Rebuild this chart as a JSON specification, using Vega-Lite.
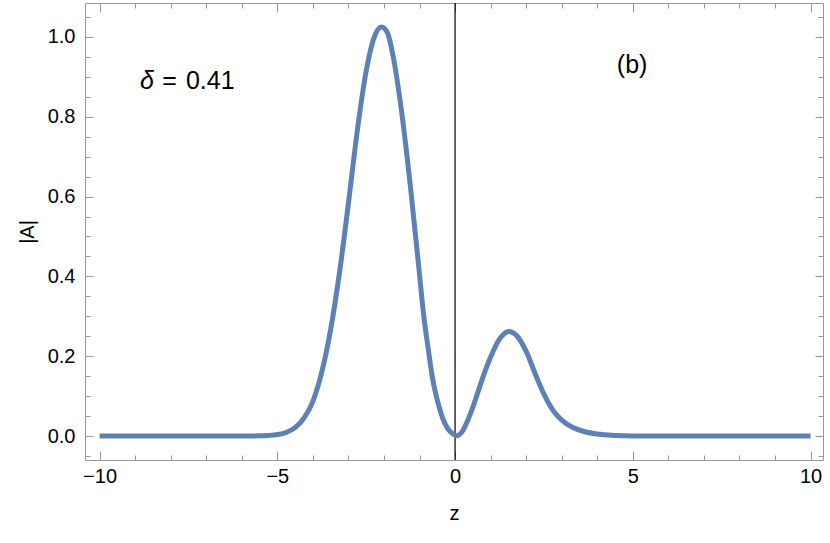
{
  "$schema": "https://vega.github.io/schema/vega-lite/v6.json",
  "width": 738,
  "height": 457,
  "autosize": "none",
  "padding": {"left": 85, "top": 3, "right": 7, "bottom": 83},
  "background": "white",
  "config": {
    "view": {"stroke": null},
    "font": "Liberation Sans",
    "axis": {
      "domainColor": "#999999",
      "domainWidth": 1,
      "tickColor": "#999999",
      "tickWidth": 1,
      "grid": false,
      "labelFont": "Liberation Sans",
      "labelFontSize": 20,
      "labelColor": "#000000",
      "titleFont": "Liberation Sans",
      "titleFontSize": 20,
      "titleFontWeight": "normal",
      "titleColor": "#000000",
      "labelFlush": false,
      "labelOverlap": false
    }
  },
  "datasets": {
    "curve": [
      {"z": -10, "A": 0}, {"z": -9, "A": 0}, {"z": -8, "A": 0}, {"z": -7, "A": 0},
      {"z": -6.5, "A": 0.00001}, {"z": -6, "A": 0.00005}, {"z": -5.5, "A": 0.0005},
      {"z": -5.25, "A": 0.0015}, {"z": -5, "A": 0.0037}, {"z": -4.75, "A": 0.009},
      {"z": -4.5, "A": 0.021}, {"z": -4.25, "A": 0.045}, {"z": -4, "A": 0.087},
      {"z": -3.75, "A": 0.16}, {"z": -3.5, "A": 0.267}, {"z": -3.25, "A": 0.41},
      {"z": -3.0, "A": 0.583}, {"z": -2.75, "A": 0.765}, {"z": -2.5, "A": 0.915},
      {"z": -2.25, "A": 1.005}, {"z": -2.07, "A": 1.025}, {"z": -1.9, "A": 1.01},
      {"z": -1.75, "A": 0.955}, {"z": -1.5, "A": 0.81}, {"z": -1.25, "A": 0.62},
      {"z": -1.0, "A": 0.405}, {"z": -0.9, "A": 0.316}, {"z": -0.75, "A": 0.215},
      {"z": -0.64, "A": 0.148}, {"z": -0.5, "A": 0.09}, {"z": -0.35, "A": 0.045},
      {"z": -0.2, "A": 0.018}, {"z": -0.05, "A": 0.005}, {"z": 0.06, "A": 0.001},
      {"z": 0.2, "A": 0.011}, {"z": 0.35, "A": 0.038}, {"z": 0.47, "A": 0.065},
      {"z": 0.65, "A": 0.112}, {"z": 0.79, "A": 0.149}, {"z": 1.0, "A": 0.198},
      {"z": 1.25, "A": 0.243}, {"z": 1.51, "A": 0.262}, {"z": 1.75, "A": 0.25},
      {"z": 2.0, "A": 0.212}, {"z": 2.29, "A": 0.148}, {"z": 2.5, "A": 0.105},
      {"z": 2.75, "A": 0.065}, {"z": 3.0, "A": 0.04}, {"z": 3.3, "A": 0.022},
      {"z": 3.6, "A": 0.012}, {"z": 4.0, "A": 0.005}, {"z": 4.5, "A": 0.0015},
      {"z": 5.0, "A": 0.0004}, {"z": 6, "A": 0.00003}, {"z": 7, "A": 0},
      {"z": 8, "A": 0}, {"z": 9, "A": 0}, {"z": 10, "A": 0}
    ],
    "zero": [{"z": 0}],
    "labels": [
      {"z": -8.86, "A": 0.87, "t": "δ", "kind": "sym"},
      {"z": -8.24, "A": 0.87, "t": "=", "kind": "val"},
      {"z": -7.57, "A": 0.87, "t": "0.41", "kind": "val"},
      {"z": 4.98, "A": 0.91, "t": "(b)", "kind": "tag"}
    ]
  },
  "resolve": {"axis": {"x": "independent", "y": "independent"}},
  "layer": [
    {
      "data": {"name": "zero"},
      "mark": {"type": "rule", "color": "#000000", "strokeWidth": 1.2},
      "encoding": {
        "x": {
          "field": "z", "type": "quantitative",
          "scale": {"domain": [-10.41, 10.35], "nice": false, "zero": false},
          "axis": {
            "orient": "bottom",
            "title": "z",
            "titlePadding": 13,
            "labelFontSize": 20,
            "values": [-10,-9,-8,-7,-6,-5,-4,-3,-2,-1,0,1,2,3,4,5,6,7,8,9,10],
            "tickSize": {"condition": {"test": "datum.value % 5 === 0", "value": -9}, "value": -5},
            "labelPadding": 15,
            "labelExpr": "datum.value % 5 === 0 ? (datum.value < 0 ? '\u2212' + abs(datum.value) : '' + datum.value) : ''"
          }
        }
      }
    },
    {
      "data": {"name": "curve"},
      "mark": {"type": "line", "color": "#5E81B5", "strokeWidth": 5, "interpolate": "monotone", "clip": true},
      "encoding": {
        "x": {
          "field": "z", "type": "quantitative",
          "scale": {"domain": [-10.41, 10.35], "nice": false, "zero": false},
          "axis": {
            "orient": "top",
            "title": null,
            "labels": false,
            "values": [-10,-9,-8,-7,-6,-5,-4,-3,-2,-1,0,1,2,3,4,5,6,7,8,9,10],
            "tickSize": {"condition": {"test": "datum.value % 5 === 0", "value": -9}, "value": -5}
          }
        },
        "y": {
          "field": "A", "type": "quantitative",
          "scale": {"domain": [-0.06, 1.085], "nice": false, "zero": false},
          "axis": {
            "orient": "left",
            "title": "|A|",
            "titlePadding": 10,
            "labelFontSize": 20,
            "values": [-0.05,0,0.05,0.1,0.15,0.2,0.25,0.3,0.35,0.4,0.45,0.5,0.55,0.6,0.65,0.7,0.75,0.8,0.85,0.9,0.95,1,1.05],
            "tickSize": {"condition": {"test": "abs(datum.value*5 - round(datum.value*5)) < 0.000001", "value": -8}, "value": -5},
            "labelPadding": 18,
            "labelExpr": "abs(datum.value*5 - round(datum.value*5)) < 0.000001 ? format(datum.value, '.1f') : ''"
          }
        }
      }
    },
    {
      "data": {"name": "labels"},
      "transform": [{"filter": "datum.kind === 'sym'"}],
      "mark": {"type": "text", "align": "left", "baseline": "alphabetic", "fontSize": 25, "fontStyle": "italic", "font": "Liberation Sans", "color": "#000000"},
      "encoding": {
        "x": {"field": "z", "type": "quantitative", "scale": {"domain": [-10.41, 10.35], "nice": false, "zero": false}, "axis": null},
        "y": {
          "field": "A", "type": "quantitative",
          "scale": {"domain": [-0.06, 1.085], "nice": false, "zero": false},
          "axis": {
            "orient": "right",
            "title": null,
            "labels": false,
            "values": [-0.05,0,0.05,0.1,0.15,0.2,0.25,0.3,0.35,0.4,0.45,0.5,0.55,0.6,0.65,0.7,0.75,0.8,0.85,0.9,0.95,1,1.05],
            "tickSize": {"condition": {"test": "abs(datum.value*5 - round(datum.value*5)) < 0.000001", "value": -8}, "value": -5}
          }
        },
        "text": {"field": "t"}
      }
    },
    {
      "data": {"name": "labels"},
      "transform": [{"filter": "datum.kind === 'val'"}],
      "mark": {"type": "text", "align": "left", "baseline": "alphabetic", "fontSize": 25, "font": "Liberation Sans", "color": "#000000"},
      "encoding": {
        "x": {"field": "z", "type": "quantitative", "scale": {"domain": [-10.41, 10.35], "nice": false, "zero": false}, "axis": null},
        "y": {"field": "A", "type": "quantitative", "scale": {"domain": [-0.06, 1.085], "nice": false, "zero": false}, "axis": null},
        "text": {"field": "t"}
      }
    },
    {
      "data": {"name": "labels"},
      "transform": [{"filter": "datum.kind === 'tag'"}],
      "mark": {"type": "text", "align": "center", "baseline": "alphabetic", "fontSize": 25, "font": "Liberation Sans", "color": "#000000"},
      "encoding": {
        "x": {"field": "z", "type": "quantitative", "scale": {"domain": [-10.41, 10.35], "nice": false, "zero": false}, "axis": null},
        "y": {"field": "A", "type": "quantitative", "scale": {"domain": [-0.06, 1.085], "nice": false, "zero": false}, "axis": null},
        "text": {"field": "t"}
      }
    }
  ]
}
